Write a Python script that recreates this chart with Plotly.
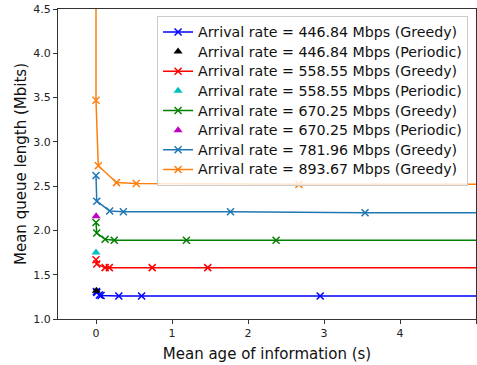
import plotly.graph_objects as go

# Greedy series (x: mean age of information [s], y: mean queue length [Mbits])
g446_x = [0.005, 0.01, 0.044, 0.066, 0.30, 0.60, 2.95, 5.9]
g446_y = [1.31, 1.30, 1.27, 1.265, 1.26, 1.26, 1.26, 1.26]
g558_x = [0.0, 0.01, 0.12, 0.175, 0.74, 1.47, 7.4]
g558_y = [1.67, 1.62, 1.58, 1.58, 1.58, 1.58, 1.58]
g670_x = [0.0, 0.01, 0.12, 0.24, 1.19, 2.37, 11.9]
g670_y = [2.09, 1.97, 1.90, 1.89, 1.89, 1.89, 1.89]
g781_x = [0.0, 0.01, 0.18, 0.36, 1.77, 3.54, 17.7]
g781_y = [2.62, 2.33, 2.22, 2.21, 2.21, 2.20, 2.20]
g893_x = [0.0, 0.0, 0.03, 0.27, 0.53, 2.67, 5.34]
g893_y = [7.0, 3.47, 2.73, 2.54, 2.53, 2.52, 2.52]

# Periodic series
p446_x = [0.005]
p446_y = [1.32]
p558_x = [0.0]
p558_y = [1.75]
p670_x = [0.002]
p670_y = [2.16]

labels = [
    "Arrival rate = 446.84 Mbps (Greedy)",
    "Arrival rate = 446.84 Mbps (Periodic)",
    "Arrival rate = 558.55 Mbps (Greedy)",
    "Arrival rate = 558.55 Mbps (Periodic)",
    "Arrival rate = 670.25 Mbps (Greedy)",
    "Arrival rate = 670.25 Mbps (Periodic)",
    "Arrival rate = 781.96 Mbps (Greedy)",
    "Arrival rate = 893.67 Mbps (Greedy)",
]

fig = go.Figure()


def legend_name(text):
    return "<span style='font-size:14.2px'>" + text + "</span>"


def greedy(x, y, name, color):
    fig.add_trace(go.Scatter(
        x=x, y=y, name=legend_name(name), mode="lines+markers",
        line=dict(color=color, width=1.5),
        marker=dict(symbol="x-thin", size=7, color=color,
                    line=dict(color=color, width=1.5)),
    ))


def periodic(x, y, name, color):
    fig.add_trace(go.Scatter(
        x=x, y=y, name=legend_name(name), mode="markers",
        marker=dict(symbol="triangle-up", size=8, color=color),
    ))


greedy(g446_x, g446_y, labels[0], "#0000ff")
periodic(p446_x, p446_y, labels[1], "#000000")
greedy(g558_x, g558_y, labels[2], "#ff0000")
periodic(p558_x, p558_y, labels[3], "#00bfbf")
greedy(g670_x, g670_y, labels[4], "#008000")
periodic(p670_x, p670_y, labels[5], "#bf00bf")
greedy(g781_x, g781_y, labels[6], "#1f77b4")
greedy(g893_x, g893_y, labels[7], "#ff7f0e")

axis_common = dict(
    showgrid=False, zeroline=False, showline=True, linecolor="#333333",
    linewidth=1, mirror=True, ticks="outside", ticklen=4, tickcolor="#333333",
    tickfont=dict(family="DejaVu Sans", size=11, color="#222222"),
)

fig.update_layout(
    width=477, height=365,
    margin=dict(l=58, r=1, t=9, b=46),
    paper_bgcolor="white", plot_bgcolor="white",
    font=dict(family="DejaVu Sans", color="#111111"),
    xaxis=dict(range=[-0.5, 5], dtick=1, tickformat="d",
               title=dict(text="Mean age of information (s)",
                          font=dict(size=15), standoff=9),
               **axis_common),
    yaxis=dict(range=[1.0, 4.5], dtick=0.5, tickformat=".1f",
               title=dict(text="Mean queue length (Mbits)",
                          font=dict(size=15), standoff=3),
               **axis_common),
    legend=dict(x=0.237, y=0.977, xanchor="left", yanchor="top",
                bgcolor="rgba(255,255,255,0.8)", bordercolor="#cccccc",
                borderwidth=1, font=dict(size=12.8, family="DejaVu Sans"),
                itemwidth=30, tracegroupgap=0),
    showlegend=True,
)

fig.write_html(
    "out.html",
    config={"displayModeBar": False},
    post_script="document.body.style.margin='0';document.body.style.overflow='hidden';",
)
